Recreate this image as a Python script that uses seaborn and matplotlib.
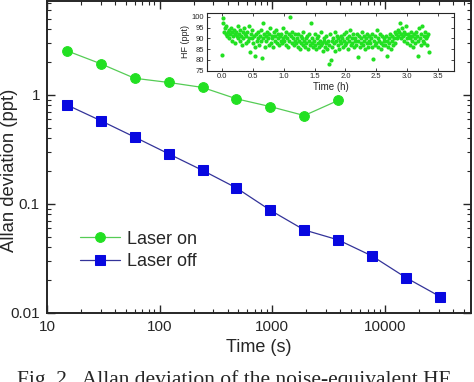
import numpy as np
import pandas as pd
import matplotlib
matplotlib.use("Agg")
import matplotlib.pyplot as plt
import matplotlib.ticker as mticker
import seaborn as sns

# averaging times (s)
tau_on = [15, 30, 60, 120, 240, 480, 960, 1920, 3840]
adev_on = [2.54, 1.93, 1.42, 1.30, 1.17, 0.92, 0.78, 0.646, 0.89]
tau_off = [15, 30, 60, 120, 240, 480, 960, 1920, 3840, 7680, 15360, 30720]
adev_off = [0.81, 0.58, 0.41, 0.288, 0.203, 0.14, 0.0873, 0.0576, 0.0467, 0.0332, 0.021, 0.0141]

# inset: HF readings (ppt) over 0 .. 3.35 h
hf_ppt = [
    82.5, 99.5, 97, 93, 95, 92, 96, 91, 93, 94, 90, 92, 95, 89, 93, 91, 94, 92, 88, 93,
    91, 96, 90, 92, 89, 94, 91, 87, 93, 90, 95, 92, 88, 91, 93, 89, 96, 90, 83.5, 92,
    90, 94, 88, 91, 86, 82, 92, 89, 93, 90, 87, 91, 94, 89, 81, 97, 90, 92, 86, 91,
    89, 93, 90, 87, 92, 95, 88, 91, 90, 86, 93, 89, 91, 94, 88, 90, 92, 87, 91, 89,
    92, 88, 90, 95, 89, 91, 87, 93, 90, 86, 92, 89, 100, 91, 88, 93, 90, 87, 89, 92,
    88, 90, 86, 92, 89, 85, 91, 88, 90, 87, 93, 89, 86, 90, 88, 91, 85, 89, 92, 87,
    97, 88, 90, 86, 89, 92, 87, 85, 90, 88, 91, 86, 89, 93, 87, 88, 84, 90, 89, 86,
    88, 91, 85, 89, 78, 87, 92, 80, 89, 86, 90, 88, 93, 84, 89, 91, 87, 90, 85, 89,
    91, 88, 90, 86, 92, 89, 87, 93, 88, 90, 85, 91, 89, 94, 87, 90, 88, 92, 86, 89,
    90, 87, 92, 81.5, 89, 91, 86, 90, 88, 93, 87, 89, 91, 85, 90, 88, 92, 86, 89, 91,
    88, 90, 86, 92, 80.5, 89, 87, 91, 88, 94, 86, 90, 89, 92, 85, 88, 91, 87, 90, 89,
    87, 91, 82, 89, 86, 90, 88, 92, 85, 89, 91, 87, 90, 93, 88, 92, 90, 94, 91, 93,
    97, 92, 90, 95, 91, 93, 89, 92, 96, 90, 88, 92, 91, 87, 90, 93, 89, 91, 86, 92,
    90, 88, 93, 91, 82, 89, 95, 90, 87, 92, 96, 89, 91, 88, 93, 90, 87, 91, 92, 83.5,
]
hf_time = np.linspace(0.0, 3.35, len(hf_ppt))

sns.set_style("ticks")
plt.rcParams['font.family'] = ['Liberation Sans', 'DejaVu Sans']

GREEN = '#22e022'
BLUE = '#0808e0'

fig = plt.figure(figsize=(4.74, 3.82), dpi=100)
ax = fig.add_axes([0.099, 0.181, 0.895, 0.817])

sns.lineplot(x=tau_on, y=adev_on, ax=ax, color='#55cc55', lw=0.9,
             marker='o', markersize=7, markerfacecolor=GREEN, markeredgecolor=GREEN,
             label='Laser on')
sns.lineplot(x=tau_off, y=adev_off, ax=ax, color='#333399', lw=0.9,
             marker='s', markersize=6.5, markerfacecolor=BLUE, markeredgecolor=BLUE,
             label='Laser off')

ax.set_xscale('log')
ax.set_yscale('log')
ax.set_xlim(10, 58000)
ax.set_ylim(0.01, 7.3)
fmt = mticker.FuncFormatter(lambda v, p: '%g' % v)
ax.xaxis.set_major_formatter(fmt)
ax.yaxis.set_major_formatter(fmt)
ax.xaxis.set_minor_formatter(mticker.NullFormatter())
ax.yaxis.set_minor_formatter(mticker.NullFormatter())
ax.tick_params(which='both', direction='in', top=True, right=True, labelsize=11, pad=5)
ax.tick_params(which='major', length=6, width=1)
ax.tick_params(which='minor', length=3, width=0.8)
for s in ax.spines.values():
    s.set_linewidth(1.4)
ax.set_xlabel('Time (s)', fontsize=13, labelpad=4)
ax.set_ylabel('Allan deviation (ppt)', fontsize=13.3)
ax.yaxis.set_label_coords(-0.068, 0.458)

ax.legend(loc='upper left', bbox_to_anchor=(0.04, 0.315), frameon=False, fontsize=13,
          handlelength=2.2, handletextpad=0.4, labelspacing=0.3)

# inset
ins = fig.add_axes([0.437, 0.815, 0.521, 0.152])
sns.scatterplot(x=hf_time, y=hf_ppt, ax=ins, color=GREEN, s=9, linewidth=0)
ins.set_xlim(-0.24, 3.76)
ins.set_ylim(75, 102)
ins.set_xticks([0.0, 0.5, 1.0, 1.5, 2.0, 2.5, 3.0, 3.5])
ins.xaxis.set_major_formatter(mticker.FormatStrFormatter('%.1f'))
ins.set_yticks([75, 80, 85, 90, 95, 100])
ins.tick_params(direction='in', top=True, right=True, labelsize=5.5, length=2.5, width=0.6, pad=2)
for s in ins.spines.values():
    s.set_linewidth(0.8)
ins.set_xlabel('Time (h)', fontsize=7, labelpad=1)
ins.set_ylabel('HF (ppt)', fontsize=6.5, labelpad=1)

fig.text(0.036, 0.03, 'Fig. 2.  Allan deviation of the noise-equivalent HF',
         family=['Liberation Serif', 'DejaVu Serif'], fontsize=15.5, va='top', ha='left')

fig.savefig('out.png', dpi=100)
